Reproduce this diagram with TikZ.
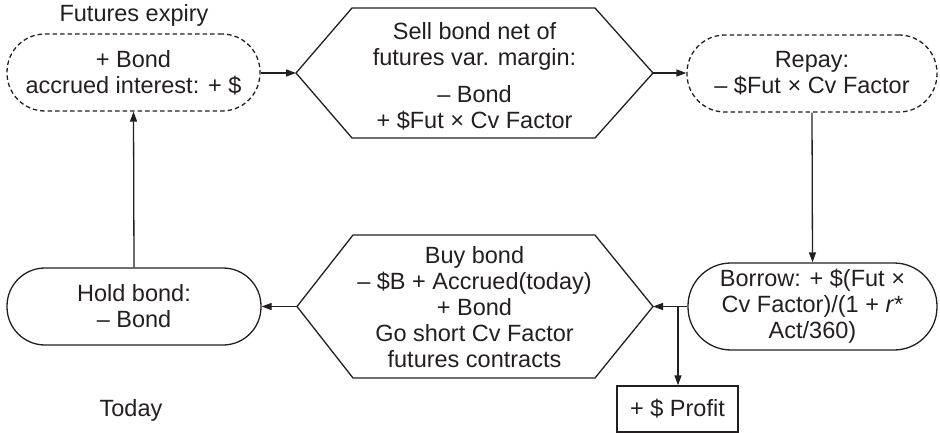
\documentclass[tikz,border=0pt]{standalone}
\usepackage{fontspec}
\setmainfont{Liberation Sans}
\usetikzlibrary{arrows.meta,calc}
\definecolor{ink}{HTML}{231F20}
\begin{document}
\begin{tikzpicture}[x=1pt,y=-1pt,
  ln/.style={line width=1.3pt, draw=ink},
  arr/.style={ln,-{Triangle[length=10pt,width=7pt]}},
  txt/.style={font=\fontsize{23.5}{26}\selectfont, text=ink, align=center, inner sep=0pt},
  pill/.style={ln, txt, rectangle, rounded corners=38pt, minimum width=253pt, minimum height=77pt},
  dashedpill/.style={pill, dash pattern=on 4.5pt off 3pt},
  hexline/.style={ln, line join=miter}
]
\useasboundingbox (0,0) rectangle (940,433);

% top labels
\node[txt] (fe) at (134,15) {Futures expiry};
\node[txt] (td) at (131,410) {Today};

% pills
\node[dashedpill] (p1) at (133.5,72.5) {+ Bond\\accrued interest: + \$};
\node[dashedpill, minimum width=250pt] (p2) at (812,73.5) {Repay:\\– \$Fut × Cv Factor};
\node[pill, minimum width=254pt] (hold) at (134,306.5) {Hold bond:\\– Bond};
\node[pill, minimum width=249pt, minimum height=87pt, rounded corners=43pt] (bor) at (812.5,306.5)
  {Borrow: + \$(Fut ×\\Cv Factor)/(1 + \textit{r}*\\Act/360)};
\node[ln, txt, rectangle, minimum width=121pt, minimum height=46pt] (pr) at (677.5,409) {+ \$ Profit};

% hexagon 1
\coordinate (h1w) at (296,73);
\coordinate (h1e) at (653,73);
\draw[hexline] (h1w) -- (352,8) -- (595,8) -- (h1e) -- (595,138) -- (352,138) -- cycle;
\node[txt] (h1) at (474.5,76.5) {Sell bond net of\\futures var. margin:\\[11pt]– Bond\\+ \$Fut × Cv Factor};

% hexagon 2
\coordinate (h2w) at (297,306.5);
\coordinate (h2e) at (653,306.5);
\draw[hexline] (h2w) -- (353,235) -- (595,235) -- (h2e) -- (595,378) -- (353,378) -- cycle;
\node[txt] (h2) at (474.5,307.5) {Buy bond\\– \$B + Accrued(today)\\+ Bond\\Go short Cv Factor\\futures contracts};

% connectors
\draw[arr] (p1.east |- h1w) -- (h1w);
\draw[arr] (h1e) -- (p2.west |- h1e);
\draw[arr] (p2.south) -- (bor.north);
\draw[arr] (bor.west) -- (h2e);
\coordinate (br) at (678,306.5);
\draw[arr] (br) -- (br |- pr.north);
\draw[arr] (h2w) -- (hold.east);
\draw[arr] (hold.north) -- (p1.south);
\end{tikzpicture}
\end{document}
